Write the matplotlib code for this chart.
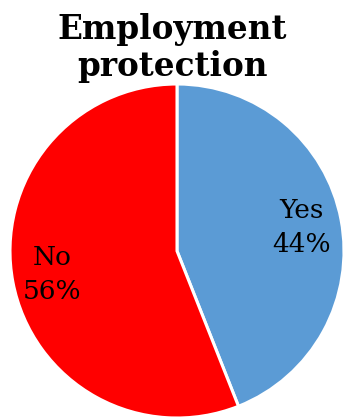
import matplotlib
matplotlib.use("Agg")
import matplotlib.pyplot as plt

categories = ["Yes", "No"]
shares = [44, 56]
colors = ["#5B9BD5", "#FF0000"]

fig = plt.figure(figsize=(3.45, 4.2), dpi=100)
ax = fig.add_axes([0, 0, 1, 1])

labels = ["{}\n{}%".format(c, v) for c, v in zip(categories, shares)]
wedges, texts = ax.pie(shares, labels=labels, colors=colors,
                       startangle=90, counterclock=False,
                       center=(177, 169), radius=167,
                       labeldistance=0.76,
                       wedgeprops=dict(edgecolor="white", linewidth=2.2),
                       textprops=dict(family="DejaVu Serif", fontsize=19,
                                      ha="center", va="center",
                                      linespacing=1.45))
ax.set_xlim(0, 345)
ax.set_ylim(0, 420)
ax.set_aspect("equal")
ax.axis("off")

fig.text(0.5, 0.97, "Employment\nprotection", ha="center", va="top",
         family="DejaVu Serif", fontweight="bold", fontsize=23.5,
         linespacing=1.17)

fig.savefig("out.png", dpi=100)
